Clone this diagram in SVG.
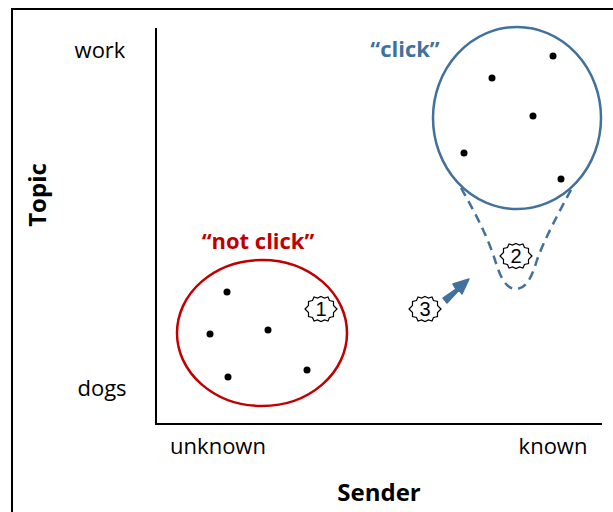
<svg xmlns="http://www.w3.org/2000/svg" width="613" height="512" viewBox="0 0 613 512">
  <defs>
    <style>
      .lbl { font-family: "Open Sans", "Liberation Sans", sans-serif; font-size: 22px; fill: #000; }
      .bold { font-weight: bold; }
      .big { font-size: 24px; }
      .dot { fill: #000; }
      .badge { fill: #fff; stroke: #000; stroke-width: 1.2; }
      .num { font-family: "Liberation Sans", sans-serif; font-size: 20px; fill: #000; text-anchor: middle; }
    </style>
    <path id="star" d="M0,-12.5 L3.5,-11 L7,-12 L8.5,-8.5 L12.5,-7.5 L12.5,-3.5 L16,0 L12.5,3.5 L12.5,7.5 L8.5,8.5 L7,12 L3.5,11 L0,12.5 L-3.5,11 L-7,12 L-8.5,8.5 L-12.5,7.5 L-12.5,3.5 L-16,0 L-12.5,-3.5 L-12.5,-7.5 L-8.5,-8.5 L-7,-12 L-3.5,-11 Z"/>
  </defs>
  <rect width="613" height="512" fill="#fff"/>

  <!-- frame -->
  <path d="M12,512 V9 H613" fill="none" stroke="#000" stroke-width="2"/>

  <!-- axes -->
  <g id="axes">
    <path d="M156,28 V424 H602" fill="none" stroke="#000" stroke-width="2"/>
    <text class="lbl" x="100" y="58" text-anchor="middle">work</text>
    <text class="lbl" x="102" y="396" text-anchor="middle">dogs</text>
    <text class="lbl" x="218" y="454" text-anchor="middle">unknown</text>
    <text class="lbl" x="553" y="454" text-anchor="middle">known</text>
    <text class="lbl bold big" x="379" y="501" text-anchor="middle">Sender</text>
    <text class="lbl bold big" transform="translate(46,195) rotate(-90)" text-anchor="middle">Topic</text>
  </g>

  <!-- not click cluster -->
  <g id="not-click">
    <ellipse cx="262" cy="333" rx="85" ry="73" fill="none" stroke="#c00000" stroke-width="2.5"/>
    <text class="lbl bold" x="258" y="249" text-anchor="middle" style="fill:#c00000">“not click”</text>
    <circle class="dot" cx="227" cy="292" r="3.5"/>
    <circle class="dot" cx="210" cy="334" r="3.5"/>
    <circle class="dot" cx="268" cy="330" r="3.5"/>
    <circle class="dot" cx="228" cy="377" r="3.5"/>
    <circle class="dot" cx="307" cy="370" r="3.5"/>
  </g>

  <!-- click cluster -->
  <g id="click">
    <ellipse cx="517" cy="118" rx="84" ry="91" fill="none" stroke="#41719c" stroke-width="2.5"/>
    <text class="lbl bold" x="405" y="57" text-anchor="middle" style="fill:#41719c">“click”</text>
    <circle class="dot" cx="553" cy="56" r="3.5"/>
    <circle class="dot" cx="492" cy="78" r="3.5"/>
    <circle class="dot" cx="533" cy="116" r="3.5"/>
    <circle class="dot" cx="464" cy="153" r="3.5"/>
    <circle class="dot" cx="561" cy="179" r="3.5"/>
  </g>

  <!-- connectors -->
  <g id="connectors">
    <path d="M461,188 C476,214 488,238 495,260 C501,280 507,289 516,289 C525,289 531,280 537,260 C545,238 558,214 572,188" fill="none" stroke="#41719c" stroke-width="2.5" stroke-dasharray="9,6"/>
    <path d="M443,298 L456,289 L453,284 L469,279 L462,294 L459,290 L447,303 Z" fill="#41719c" stroke="#41719c" stroke-width="1.5" stroke-linejoin="round"/>
  </g>

  <!-- step badges -->
  <g id="badge-1">
    <use href="#star" class="badge" x="321" y="309"/>
    <text class="num" x="321" y="316">1</text>
  </g>
  <g id="badge-2">
    <use href="#star" class="badge" x="516" y="256"/>
    <text class="num" x="516" y="263">2</text>
  </g>
  <g id="badge-3">
    <use href="#star" class="badge" x="425" y="309"/>
    <text class="num" x="425" y="316">3</text>
  </g>
</svg>
